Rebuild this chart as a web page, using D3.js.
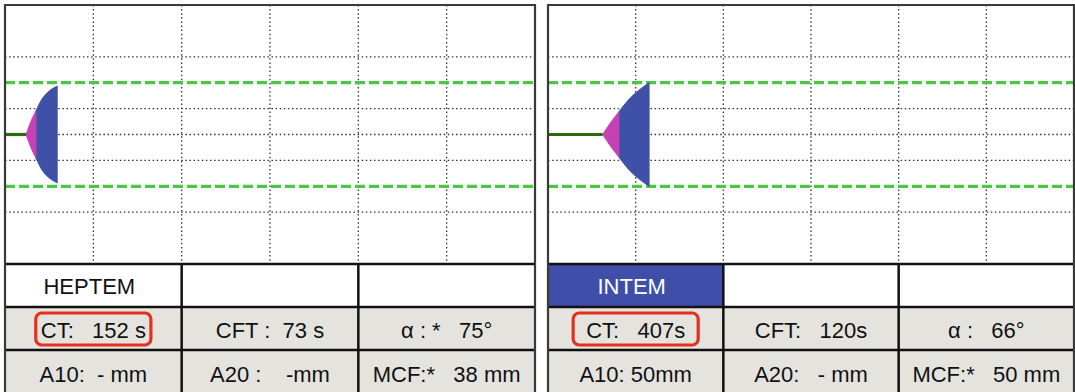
<!DOCTYPE html>
<html>
<head>
<meta charset="utf-8">
<script src="https://cdn.jsdelivr.net/npm/d3@7"></script>
<style>
  body { margin: 0; background: #fff; }
  svg { display: block; }
  text { font-family: "Liberation Sans", Arial, sans-serif; }
</style>
</head>
<body>
<script>
// panel names
var panels = ["HEPTEM", "INTEM"];

// time in minutes, amplitude in mm
var heptemTime = [2.38, 2.91, 3.51, 4.16, 4.90, 5.92];
var heptemAmp  = [0, 4.9, 9.2, 13.6, 16.5, 18.7];
var heptemCFTEnd = 3.51;

var intemTime = [6.23, 7.14, 8.09, 9.15, 10.28, 11.54];
var intemAmp  = [0, 4.6, 8.8, 13.3, 16.9, 20.0];
var intemCFTEnd = 8.09;

// grid
var timeGrid = [10, 20, 30, 40, 50];
var ampGrid = [-30, -10, 0, 10, 30];
var refLines = [-20, 20];

// table text
var heptemRow2 = ["CT:   152 s", "CFT :  73 s", "\u03b1 : *   75\u00b0"];
var heptemRow3 = ["A10:  - mm", "A20 :    -mm", "MCF:*   38 mm"];
var intemRow2 = ["CT:   407s", "CFT:   120s", "\u03b1 :   66\u00b0"];
var intemRow3 = ["A10: 50mm", "A20:   - mm", "MCF:*   50 mm"];

var W = 1075, H = 392;
var svg = d3.select("body").append("svg")
    .attr("width", W)
    .attr("height", H);

var plotTop = 5, plotBottom = 264;
var rowEdges = [264, 307, 350, 392];

var panelSpecs = [
    {name: panels[0], left: 5, right: 535, time: heptemTime, amp: heptemAmp, cft: heptemCFTEnd,
     rows: [heptemRow2, heptemRow3], highlight: false, pad: 5},
    {name: panels[1], left: 548, right: 1074, time: intemTime, amp: intemAmp, cft: intemCFTEnd,
     rows: [intemRow2, intemRow3], highlight: true, pad: 13}
];

panelSpecs.forEach(function(p) {
    var x = d3.scaleLinear().domain([0, 60]).range([p.left, p.right]);
    var y = d3.scaleLinear().domain([-50, 50]).range([plotBottom, plotTop]);
    var g = svg.append("g");

    // dotted grid
    g.selectAll(".vgrid")
        .data(timeGrid)
        .enter()
        .append("line")
        .attr("x1", function(d) { return x(d); })
        .attr("x2", function(d) { return x(d); })
        .attr("y1", plotTop)
        .attr("y2", plotBottom)
        .style("stroke", "#333")
        .style("stroke-width", 1.3)
        .style("stroke-dasharray", "1.5,2.6");

    g.selectAll(".hgrid")
        .data(ampGrid)
        .enter()
        .append("line")
        .attr("x1", x(0))
        .attr("x2", x(60))
        .attr("y1", function(d) { return y(d); })
        .attr("y2", function(d) { return y(d); })
        .style("stroke", "#333")
        .style("stroke-width", 1.3)
        .style("stroke-dasharray", "1.5,2.6");

    // green reference lines
    g.selectAll(".ref")
        .data(refLines)
        .enter()
        .append("line")
        .attr("x1", x(0))
        .attr("x2", x(60))
        .attr("y1", function(d) { return y(d); })
        .attr("y2", function(d) { return y(d); })
        .style("stroke", "#48c843")
        .style("stroke-width", 3.2)
        .style("stroke-dasharray", "10,4");

    // trace
    var pts = p.time.map(function(t, i) { return {t: t, a: p.amp[i]}; });
    var area = d3.area()
        .x(function(d) { return x(d.t); })
        .y0(function(d) { return y(-d.a); })
        .y1(function(d) { return y(d.a); })
        .curve(d3.curveMonotoneX);

    var early = pts.filter(function(d) { return d.t <= p.cft; });
    var late = pts.filter(function(d) { return d.t >= p.cft; });

    g.append("path")
        .attr("d", area(late))
        .style("fill", "#3e51a6")
        .style("stroke", "#3e51a6")
        .style("stroke-width", 0.8);
    g.append("path")
        .attr("d", area(early))
        .style("fill", "#c441b6")
        .style("stroke", "#c441b6")
        .style("stroke-width", 0.8);

    g.append("line")
        .attr("x1", x(0))
        .attr("x2", x(p.time[0]))
        .attr("y1", y(0))
        .attr("y2", y(0))
        .style("stroke", "#2c6a0e")
        .style("stroke-width", 3.2);

    // table
    var cols = [0, 20, 40, 60].map(function(d) { return x(d); });
    var t = svg.append("g");

    // row backgrounds
    for (var c = 0; c < 3; c++) {
        t.append("rect")
            .attr("x", cols[c])
            .attr("y", rowEdges[0])
            .attr("width", cols[c + 1] - cols[c])
            .attr("height", rowEdges[1] - rowEdges[0])
            .style("fill", (c === 0 && p.highlight) ? "#3f4fa9" : "#fff");
        for (var r = 1; r < 3; r++) {
            t.append("rect")
                .attr("x", cols[c])
                .attr("y", rowEdges[r])
                .attr("width", cols[c + 1] - cols[c])
                .attr("height", rowEdges[r + 1] - rowEdges[r])
                .style("fill", "#e4e3de");
        }
    }

    t.append("text")
        .attr("x", (cols[0] + cols[1]) / 2 - 4)
        .attr("y", 294)
        .attr("text-anchor", "middle")
        .style("font-size", "22px")
        .style("fill", p.highlight ? "#fff" : "#111")
        .text(p.name);

    var baselines = [338, 382];
    p.rows.forEach(function(row, ri) {
        t.selectAll(".cell" + ri)
            .data(row)
            .enter()
            .append("text")
            .attr("x", function(d, i) { return (cols[i] + cols[i + 1]) / 2; })
            .attr("y", baselines[ri])
            .attr("text-anchor", "middle")
            .style("font-size", "22px")
            .style("white-space", "pre")
            .style("fill", "#111")
            .text(function(d) { return d; })
            .each(function(d, i) {
                if (ri === 0 && i === 0) {
                    var bb = this.getBBox();
                    t.append("rect")
                        .attr("x", bb.x - p.pad)
                        .attr("y", 313)
                        .attr("width", bb.width + 2 * p.pad)
                        .attr("height", 32)
                        .attr("rx", 6)
                        .style("fill", "none")
                        .style("stroke", "#e3301f")
                        .style("stroke-width", 3.2);
                }
            });
    });

    // table lines
    rowEdges.slice(0, 3).forEach(function(ry) {
        t.append("line")
            .attr("x1", p.left).attr("x2", p.right)
            .attr("y1", ry).attr("y2", ry)
            .style("stroke", "#111")
            .style("stroke-width", 2.5);
    });
    cols.slice(1, 3).forEach(function(cx) {
        t.append("line")
            .attr("x1", cx).attr("x2", cx)
            .attr("y1", rowEdges[0]).attr("y2", H)
            .style("stroke", "#111")
            .style("stroke-width", 2.5);
    });

    // panel border
    svg.append("path")
        .attr("d", "M" + p.left + "," + H + "V" + plotTop + "H" + p.right + "V" + H)
        .style("fill", "none")
        .style("stroke", "#3a3a3a")
        .style("stroke-width", 2.2);
});
</script>
</body>
</html>
